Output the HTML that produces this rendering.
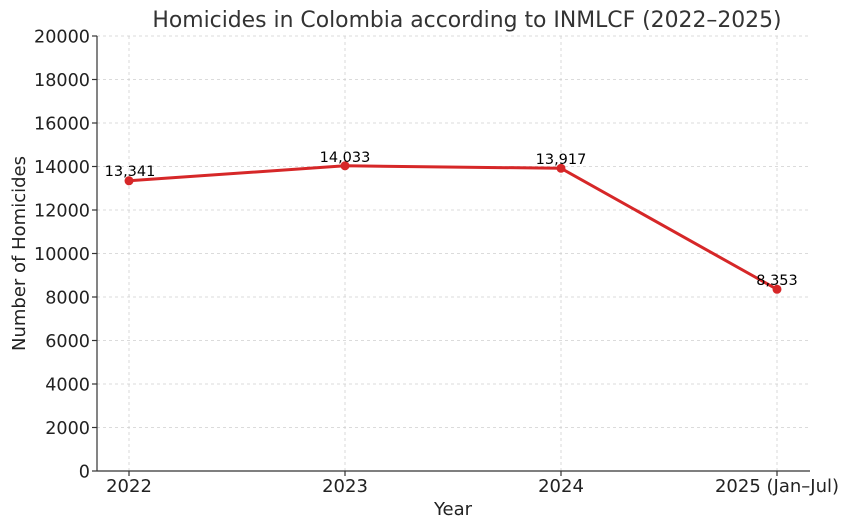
<!DOCTYPE html>
<html><head><meta charset="utf-8"><style>
html,body{margin:0;padding:0;background:#fff;}
svg{display:block;font-family:"DejaVu Sans","Liberation Sans",sans-serif;}
</style></head><body>
<svg width="850" height="529" viewBox="0 0 850 529" xmlns="http://www.w3.org/2000/svg">
<rect width="850" height="529" fill="#fff"/>
<g stroke="#d0d0d0" stroke-width="0.8" stroke-dasharray="3,3">
<line x1="97" x2="810" y1="36" y2="36"/>
<line x1="97" x2="810" y1="79.5" y2="79.5"/>
<line x1="97" x2="810" y1="123" y2="123"/>
<line x1="97" x2="810" y1="166.5" y2="166.5"/>
<line x1="97" x2="810" y1="210" y2="210"/>
<line x1="97" x2="810" y1="253.5" y2="253.5"/>
<line x1="97" x2="810" y1="297" y2="297"/>
<line x1="97" x2="810" y1="340.5" y2="340.5"/>
<line x1="97" x2="810" y1="384" y2="384"/>
<line x1="97" x2="810" y1="427.5" y2="427.5"/>
<line x1="129" x2="129" y1="36" y2="471"/>
<line x1="345" x2="345" y1="36" y2="471"/>
<line x1="561" x2="561" y1="36" y2="471"/>
<line x1="777" x2="777" y1="36" y2="471"/>
</g>
<g stroke="#333" stroke-width="1.2">
<line x1="97" x2="97" y1="36" y2="471"/>
<line x1="97" x2="810" y1="471" y2="471"/>
<line x1="92" x2="97" y1="36" y2="36"/><line x1="92" x2="97" y1="79.5" y2="79.5"/>
<line x1="92" x2="97" y1="123" y2="123"/><line x1="92" x2="97" y1="166.5" y2="166.5"/>
<line x1="92" x2="97" y1="210" y2="210"/><line x1="92" x2="97" y1="253.5" y2="253.5"/>
<line x1="92" x2="97" y1="297" y2="297"/><line x1="92" x2="97" y1="340.5" y2="340.5"/>
<line x1="92" x2="97" y1="384" y2="384"/><line x1="92" x2="97" y1="427.5" y2="427.5"/>
<line x1="92" x2="97" y1="471" y2="471"/>
<line x1="129" x2="129" y1="471" y2="476"/><line x1="345" x2="345" y1="471" y2="476"/>
<line x1="561" x2="561" y1="471" y2="476"/><line x1="777" x2="777" y1="471" y2="476"/>
</g>
<g fill="#222" font-size="17.6" text-anchor="end">
<text x="90" y="42.5">20000</text><text x="90" y="86">18000</text>
<text x="90" y="129.5">16000</text><text x="90" y="173">14000</text>
<text x="90" y="216.5">12000</text><text x="90" y="260">10000</text>
<text x="90" y="303.5">8000</text><text x="90" y="347">6000</text>
<text x="90" y="390.5">4000</text><text x="90" y="434">2000</text>
<text x="90" y="477.5">0</text>
</g>
<g fill="#222" font-size="18" text-anchor="middle">
<text x="129" y="492">2022</text><text x="345" y="492">2023</text>
<text x="561" y="492">2024</text><text x="777" y="492">2025 (Jan–Jul)</text>
<text x="453" y="515">Year</text>
<text x="467" y="27" font-size="21.9" fill="#333">Homicides in Colombia according to INMLCF (2022–2025)</text>
<text transform="translate(25,253.5) rotate(-90)">Number of Homicides</text>
</g>
<polyline points="129,180.8 345,165.8 561,168.3 777,289.3" fill="none" stroke="#d62728" stroke-width="3" stroke-linejoin="round"/>
<g fill="#d62728">
<circle cx="129" cy="180.8" r="4.5"/><circle cx="345" cy="165.8" r="4.5"/>
<circle cx="561" cy="168.3" r="4.5"/><circle cx="777" cy="289.3" r="4.5"/>
</g>
<g fill="#000" font-size="14.5" text-anchor="middle">
<text x="130" y="176">13,341</text><text x="345" y="162">14,033</text>
<text x="561" y="164">13,917</text><text x="777" y="285">8,353</text>
</g>
</svg>
</body></html>
